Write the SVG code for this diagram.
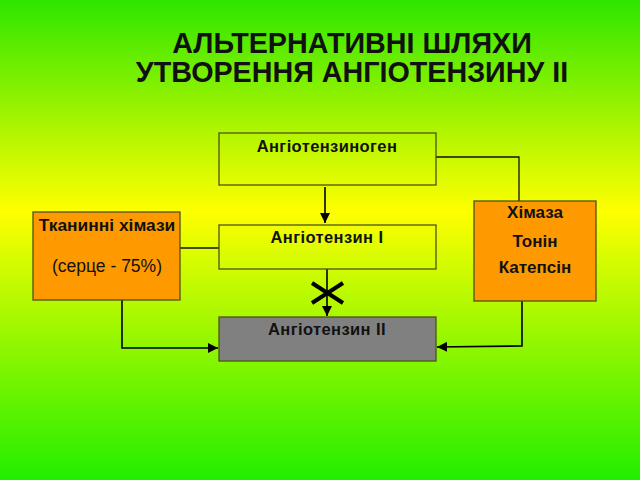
<svg xmlns="http://www.w3.org/2000/svg" width="640" height="480" viewBox="0 0 640 480">
<defs>
<linearGradient id="bg" x1="0" y1="0" x2="0" y2="1">
<stop offset="0" stop-color="#2ee600"/>
<stop offset="0.44" stop-color="#ffff00"/>
<stop offset="1" stop-color="#22ee00"/>
</linearGradient>
<marker id="ah" viewBox="0 0 10 10" refX="10" refY="5" markerWidth="10" markerHeight="10" markerUnits="userSpaceOnUse" orient="auto">
<path d="M0,0 L10,5 L0,10 z" fill="#000"/>
</marker>
<style>
.box{stroke:#4f5214;stroke-width:1.3}
.t{font-family:"Liberation Sans",Arial,sans-serif;fill:#111;text-anchor:middle}
.b{font-weight:bold;font-size:16.5px;letter-spacing:0.4px}
.o{font-size:17.5px}
.h{font-weight:bold;font-size:17px}
.c{fill:none;stroke:#111;stroke-width:1.3}
.a{fill:none;stroke:#000;stroke-width:1.6}
</style>
</defs>
<rect x="0" y="0" width="640" height="480" fill="url(#bg)"/>
<g id="title">
<text class="t" x="352" y="53" font-size="28.7" font-weight="bold">АЛЬТЕРНАТИВНІ ШЛЯХИ</text>
<text class="t" x="352" y="82" font-size="28.7" font-weight="bold">УТВОРЕННЯ АНГІОТЕНЗИНУ ІІ</text>
</g>
<g id="connectors">
<path class="c" d="M436,157 H519 V201"/>
<path class="a" d="M325,187 V223" marker-end="url(#ah)"/>
<path class="c" d="M180,248 H219"/>
<path class="a" d="M327,269 V316" marker-end="url(#ah)"/>
<path d="M312,283 L343,303 M312,303 L343,283" stroke="#000" stroke-width="4" fill="none"/>
<path class="a" d="M122,300 V348 H218" marker-end="url(#ah)"/>
<path class="a" d="M522,301 V346 L437,347" marker-end="url(#ah)"/>
</g>
<g id="angiotensinogen">
<rect class="box" x="219" y="133" width="217" height="52" fill="none"/>
<text class="t b" x="327" y="152">Ангіотензиноген</text>
</g>
<g id="angiotensin1">
<rect class="box" x="219" y="225" width="217" height="44" fill="none"/>
<text class="t b" x="327" y="243">Ангіотензин I</text>
</g>
<g id="angiotensin2">
<rect class="box" x="219" y="317" width="217" height="44" fill="#808080"/>
<text class="t b" x="327" y="335">Ангіотензин II</text>
</g>
<g id="tissue">
<rect class="box" x="33" y="212" width="147" height="88" fill="#ff9900"/>
<text class="t" x="107" y="231" font-size="17.4" font-weight="bold">Тканинні хімази</text>
<text class="t o" x="107" y="272">(серце - 75%)</text>
</g>
<g id="chymase">
<rect class="box" x="474" y="201" width="122" height="100" fill="#ff9900"/>
<text class="t h" x="535" y="218">Хімаза</text>
<text class="t h" x="535" y="247">Тонін</text>
<text class="t h" x="535" y="273">Катепсін</text>
</g>
</svg>
